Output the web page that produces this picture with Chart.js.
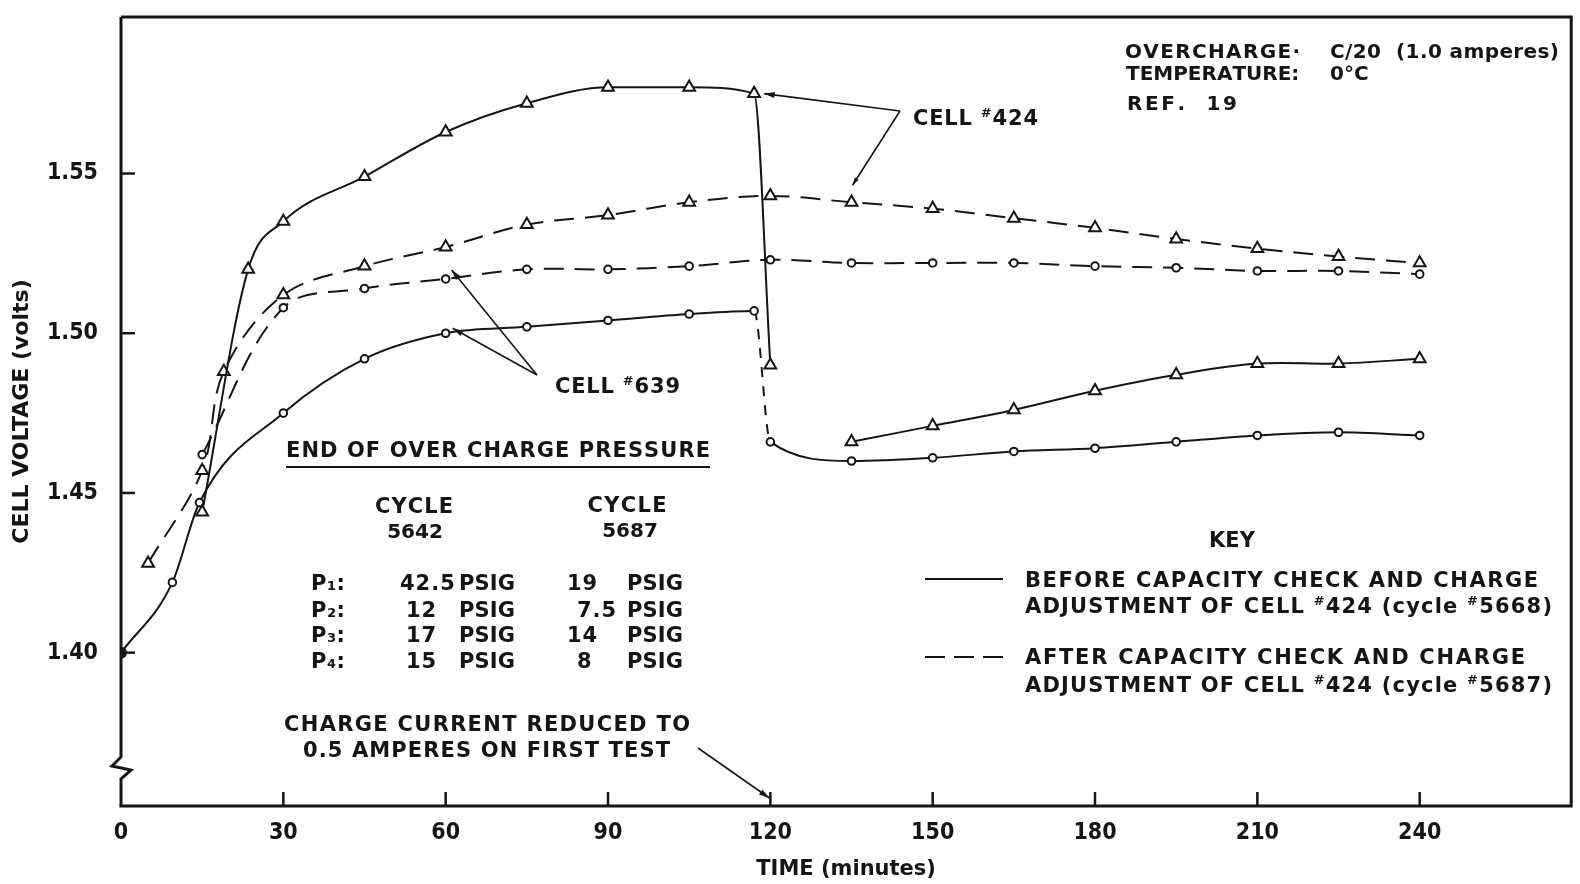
<!DOCTYPE html>
<html>
<head>
<meta charset="utf-8">
<script src="https://cdn.jsdelivr.net/npm/chart.js@4.4.1/dist/chart.umd.min.js"></script>
<style>
  html, body { margin: 0; padding: 0; background: #fff; overflow: hidden; }
  #wrap { width: 1580px; height: 884px; }
</style>
</head>
<body>
<div id="wrap"><canvas id="chart" width="1580" height="884"></canvas></div>
<script>
const xTicks = [0, 30, 60, 90, 120, 150, 180, 210, 240];
const yTicks = [1.40, 1.45, 1.50, 1.55];

// cell #424, before capacity check (solid, triangles) - up to the current drop
const c424BeforeT = [15, 23.5, 30, 45, 60, 75, 90, 105, 117, 120];
const c424BeforeV = [1.444, 1.520, 1.535, 1.549, 1.563, 1.572, 1.577, 1.577, 1.575, 1.490];
// same cell after the charge current was reduced
const c424LowT = [135, 150, 165, 180, 195, 210, 225, 240];
const c424LowV = [1.466, 1.471, 1.476, 1.482, 1.487, 1.4905, 1.4905, 1.492];
// cell #424, after capacity check (dashed, triangles)
const c424AfterT = [5, 15, 19, 30, 45, 60, 75, 90, 105, 120, 135, 150, 165, 180, 195, 210, 225, 240];
const c424AfterV = [1.428, 1.457, 1.488, 1.512, 1.521, 1.527, 1.534, 1.537, 1.541, 1.543, 1.541, 1.539, 1.536, 1.533, 1.5295, 1.5265, 1.524, 1.522];
// cell #639, before (solid, circles)
const c639BeforeT = [0, 9.5, 14.5, 30, 45, 60, 75, 90, 105, 117, 120, 135, 150, 165, 180, 195, 210, 225, 240];
const c639BeforeV = [1.400, 1.422, 1.447, 1.475, 1.492, 1.500, 1.502, 1.504, 1.506, 1.507, 1.466, 1.460, 1.461, 1.463, 1.464, 1.466, 1.468, 1.469, 1.468];
// cell #639, after (dashed, circles)
const c639AfterT = [15, 30, 45, 60, 75, 90, 105, 120, 135, 150, 165, 180, 195, 210, 225, 240];
const c639AfterV = [1.462, 1.508, 1.514, 1.517, 1.520, 1.520, 1.521, 1.523, 1.522, 1.522, 1.522, 1.521, 1.5205, 1.5195, 1.5195, 1.5185];

// pressure table
const pressureRows = ['P\u2081:', 'P\u2082:', 'P\u2083:', 'P\u2084:'];
const cycle5642 = ['42.5', '12', '17', '15'];
const cycle5687 = ['19', '7.5', '14', '8'];

const INK = '#151515';
const TXT = '"DejaVu Sans", "Liberation Sans", sans-serif';
const TICK = '"DejaVu Sans Condensed", "Liberation Sans Narrow", "Liberation Sans", sans-serif';
const DASH = [20, 11];

const pts = (t, v) => t.map((x, i) => ({ x, y: v[i] }));

function series(t, v, shape, extra) {
    return Object.assign({
        data: pts(t, v),
        borderColor: INK,
        borderWidth: 2,
        pointStyle: shape,
        pointRadius: shape === 'triangle' ? 6.8 : 3.8,
        pointBorderWidth: 2,
        pointBorderColor: INK,
        pointBackgroundColor: '#fff',
        tension: 0.35,
        fill: false
    }, extra || {});
}

const dropAt = c639BeforeT.indexOf(117);

// text drawn letter by letter so it can be stretched to the original width;
// '#' is drawn small and raised like in the typed original
function txt(ctx, str, x, y, size, opts) {
    opts = opts || {};
    const weight = 'bold ';
    const chars = [...str];
    const sizeOf = ch => ch === '#' ? Math.round(size * 0.6) : size;
    const widths = chars.map(ch => {
        ctx.font = `${weight}${sizeOf(ch)}px ${TXT}`;
        return ctx.measureText(ch).width;
    });
    const natural = widths.reduce((a, b) => a + b, 0);
    let gap = opts.width ? (opts.width - natural) / Math.max(chars.length - 1, 1) : (opts.gap || 0);
    gap = Math.max(gap, 0);
    const total = natural + gap * (chars.length - 1);
    let cx = opts.align === 'center' ? x - total / 2 : x;
    ctx.textAlign = 'left';
    ctx.textBaseline = 'alphabetic';
    chars.forEach((ch, i) => {
        ctx.font = `${weight}${sizeOf(ch)}px ${TXT}`;
        ctx.fillText(ch, cx, ch === '#' ? y - size * 0.36 : y);
        cx += widths[i] + gap;
    });
}

function line(ctx, x0, y0, x1, y1) {
    ctx.beginPath();
    ctx.moveTo(x0, y0);
    ctx.lineTo(x1, y1);
    ctx.stroke();
}

function arrow(ctx, x0, y0, x1, y1, head) {
    line(ctx, x0, y0, x1, y1);
    const ang = Math.atan2(y1 - y0, x1 - x0);
    ctx.beginPath();
    ctx.moveTo(x1, y1);
    ctx.lineTo(x1 - head * Math.cos(ang - 0.28), y1 - head * Math.sin(ang - 0.28));
    ctx.lineTo(x1 - head * Math.cos(ang + 0.28), y1 - head * Math.sin(ang + 0.28));
    ctx.closePath();
    ctx.fill();
}

const decor = {
    id: 'decor',
    afterDraw(chart) {
        const { ctx, chartArea: a, scales: { x, y } } = chart;
        ctx.save();
        ctx.strokeStyle = INK;
        ctx.fillStyle = INK;

        // --- frame, with the broken left axis ---
        ctx.lineWidth = 3;
        ctx.beginPath();
        ctx.moveTo(a.left, a.top);
        ctx.lineTo(a.right, a.top);
        ctx.lineTo(a.right, a.bottom);
        ctx.lineTo(a.left - 1.5, a.bottom);
        ctx.stroke();
        ctx.beginPath();
        ctx.moveTo(a.left, a.top);
        ctx.lineTo(a.left, a.bottom - 49);
        ctx.lineTo(a.left - 9, a.bottom - 40);
        ctx.lineTo(a.left + 10, a.bottom - 36);
        ctx.lineTo(a.left, a.bottom - 27);
        ctx.lineTo(a.left, a.bottom);
        ctx.stroke();

        // --- inward tick marks ---
        ctx.lineWidth = 2.5;
        yTicks.forEach(v => {
            const py = y.getPixelForValue(v);
            line(ctx, a.left, py, a.left + 14, py);
        });
        xTicks.slice(1).forEach(v => {
            const px = x.getPixelForValue(v);
            line(ctx, px, a.bottom, px, a.bottom - 14);
        });

        // --- test conditions ---
        txt(ctx, 'OVERCHARGE\u00b7', 1125, 58, 20, { width: 175 });
        txt(ctx, 'C/20  (1.0 amperes)', 1330, 58, 20, { width: 229 });
        txt(ctx, 'TEMPERATURE:', 1126, 80, 20, { width: 172 });
        txt(ctx, '0\u00b0C', 1330, 80, 20, { width: 37 });
        txt(ctx, 'REF.  19', 1127, 110, 20, { width: 110 });

        // --- cell labels and pointers ---
        ctx.lineWidth = 1.6;
        txt(ctx, 'CELL #424', 913, 125, 21, { width: 125 });
        const hub424 = [900, 111];
        arrow(ctx, hub424[0], hub424[1], x.getPixelForValue(117) + 10, y.getPixelForValue(1.575), 11);
        arrow(ctx, hub424[0], hub424[1], x.getPixelForValue(135) + 1, y.getPixelForValue(1.541) - 17, 8);

        txt(ctx, 'CELL #639', 555, 393, 21, { width: 125 });
        const hub639 = [537, 375];
        arrow(ctx, hub639[0], hub639[1], x.getPixelForValue(60) + 6, y.getPixelForValue(1.517) - 9, 11);
        arrow(ctx, hub639[0], hub639[1], x.getPixelForValue(60) + 7, y.getPixelForValue(1.500) - 5, 11);

        // --- pressure table ---
        txt(ctx, 'END OF OVER CHARGE PRESSURE', 286, 457, 21, { width: 424 });
        ctx.lineWidth = 2;
        line(ctx, 286, 467, 710, 467);
        txt(ctx, 'CYCLE', 414, 513, 21, { align: 'center', width: 78 });
        txt(ctx, '5642', 415, 538, 20, { align: 'center' });
        txt(ctx, 'CYCLE', 627, 512, 21, { align: 'center', width: 79 });
        txt(ctx, '5687', 630, 537, 20, { align: 'center' });
        const rowBase = [590, 617, 642, 668];
        pressureRows.forEach((p, i) => {
            txt(ctx, p, 311, rowBase[i], 21, { width: 34 });
            txt(ctx, cycle5642[i], cycle5642[i].length > 2 ? 400 : 406, rowBase[i], 21, { gap: 1 });
            txt(ctx, 'PSIG', 459, rowBase[i], 21, { width: 56 });
            txt(ctx, cycle5687[i], cycle5687[i].length === 2 ? 567 : 577, rowBase[i], 21, { gap: 1 });
            txt(ctx, 'PSIG', 627, rowBase[i], 21, { width: 56 });
        });

        // --- note on the current drop ---
        txt(ctx, 'CHARGE CURRENT REDUCED TO', 284, 731, 21, { width: 406 });
        txt(ctx, '0.5 AMPERES ON FIRST TEST', 303, 757, 21, { width: 367 });
        ctx.lineWidth = 1.6;
        arrow(ctx, 698, 748, x.getPixelForValue(120) - 1, a.bottom - 8, 11);

        // --- key ---
        txt(ctx, 'KEY', 1232, 547, 21, { align: 'center', width: 45 });
        ctx.lineWidth = 2;
        line(ctx, 925, 579, 1003, 579);
        ctx.setLineDash([20, 9]);
        line(ctx, 925, 657, 1003, 657);
        ctx.setLineDash([]);
        txt(ctx, 'BEFORE CAPACITY CHECK AND CHARGE', 1025, 587, 21, { width: 513 });
        txt(ctx, 'ADJUSTMENT OF CELL #424 (cycle #5668)', 1025, 613, 21, { width: 527 });
        txt(ctx, 'AFTER CAPACITY CHECK AND CHARGE', 1025, 664, 21, { width: 500 });
        txt(ctx, 'ADJUSTMENT OF CELL #424 (cycle #5687)', 1025, 692, 21, { width: 527 });

        ctx.restore();
    }
};

new Chart(document.getElementById('chart'), {
    type: 'line',
    data: {
        datasets: [
            series(c424BeforeT, c424BeforeV, 'triangle', { cubicInterpolationMode: 'monotone' }),
            series(c424LowT, c424LowV, 'triangle'),
            series(c424AfterT, c424AfterV, 'triangle', { borderDash: DASH }),
            series(c639BeforeT, c639BeforeV, 'circle', {
                cubicInterpolationMode: 'monotone',
                pointBackgroundColor: ctx => ctx.dataIndex === 0 ? INK : '#fff',
                pointRadius: ctx => ctx.dataIndex === 0 ? 5 : 3.8,
                segment: { borderDash: ctx => ctx.p0DataIndex === dropAt ? [10, 9] : undefined }
            }),
            series(c639AfterT, c639AfterV, 'circle', { borderDash: DASH })
        ]
    },
    options: {
        responsive: false,
        animation: false,
        events: [],
        layout: { padding: { top: 17, right: 8, left: 0, bottom: 0 } },
        plugins: { legend: { display: false }, tooltip: { enabled: false } },
        scales: {
            x: {
                type: 'linear',
                min: 0,
                max: 268,
                grid: { display: false, drawTicks: false },
                border: { display: false },
                afterBuildTicks: s => { s.ticks = xTicks.map(v => ({ value: v })); },
                afterFit: s => { s.height = 78; s.paddingLeft = 0; s.paddingRight = 0; },
                ticks: {
                    padding: 13,
                    color: INK,
                    font: { family: TICK, size: 23, weight: 'bold' },
                    maxRotation: 0,
                    autoSkip: false,
                    callback: v => String(v)
                },
                title: {
                    display: true,
                    text: 'TIME (minutes)',
                    color: INK,
                    font: { family: TXT, size: 21, weight: 'bold' },
                    padding: { top: 0, bottom: 2 }
                }
            },
            y: {
                type: 'linear',
                min: 1.352,
                max: 1.599,
                grid: { display: false, drawTicks: false },
                border: { display: false },
                afterBuildTicks: s => { s.ticks = yTicks.map(v => ({ value: v })); },
                afterFit: s => { s.width = 121; s.paddingTop = 0; s.paddingBottom = 0; },
                ticks: {
                    padding: 23,
                    color: INK,
                    font: { family: TICK, size: 23, weight: 'bold' },
                    autoSkip: false,
                    callback: v => v.toFixed(2)
                },
                title: {
                    display: true,
                    text: 'CELL VOLTAGE (volts)',
                    color: INK,
                    font: { family: TXT, size: 22, weight: 'bold' },
                    padding: { top: 9, bottom: 0 }
                }
            }
        }
    },
    plugins: [decor]
});
</script>
</body>
</html>
